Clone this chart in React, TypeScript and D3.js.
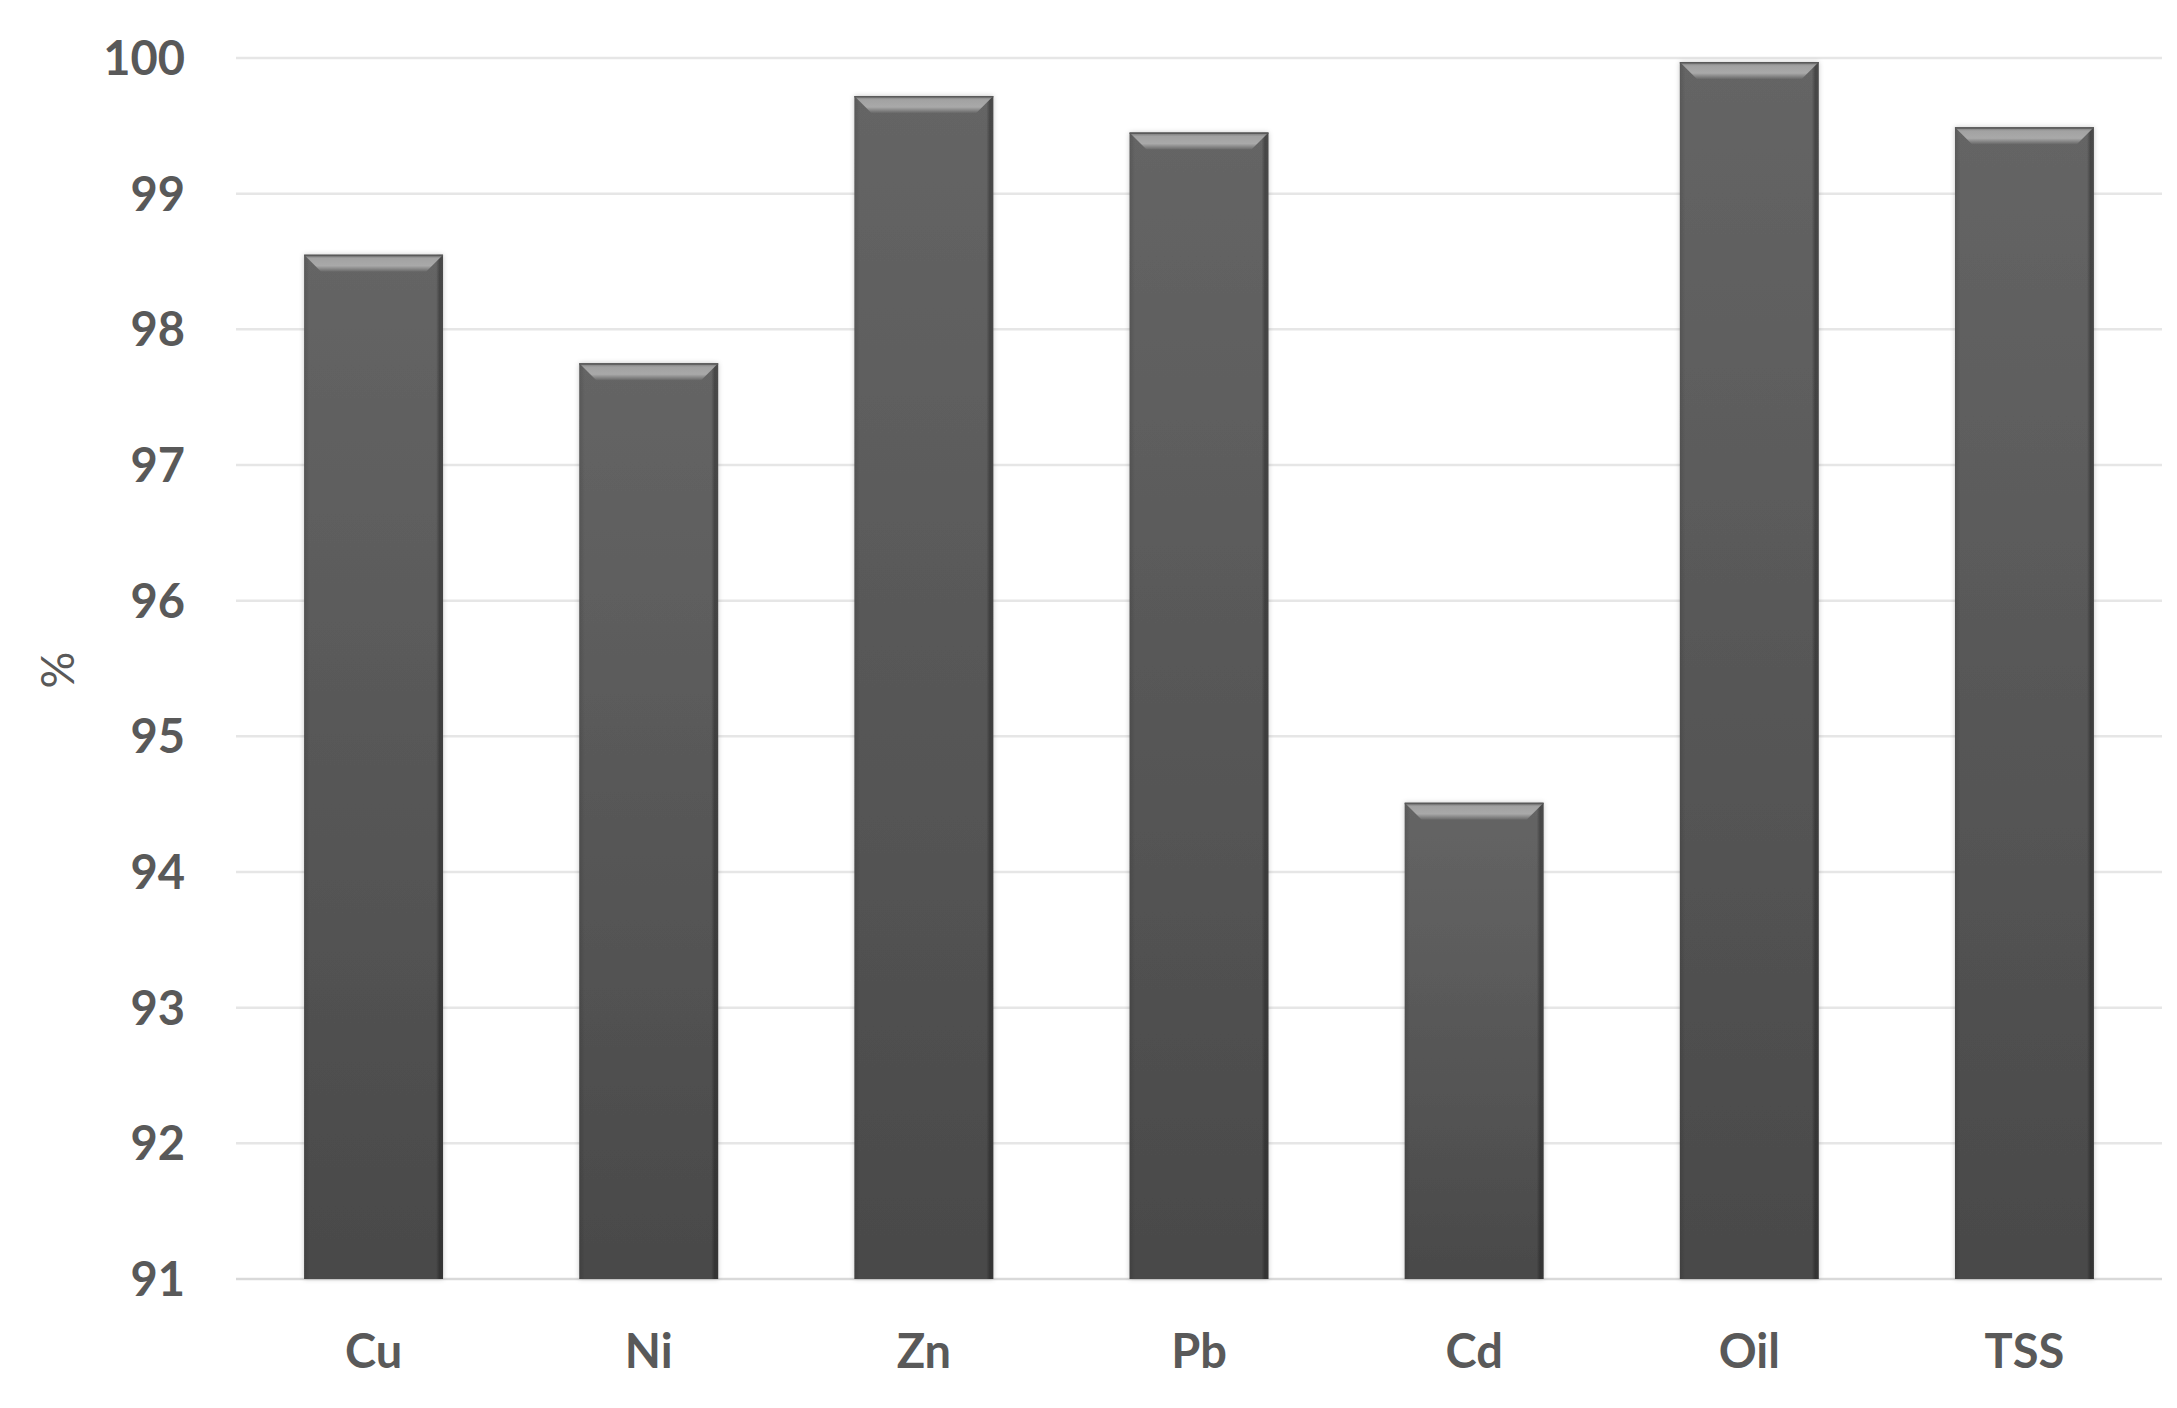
import React, { useEffect, useRef } from 'react'
import * as d3 from 'd3'

const categories = ['Cu', 'Ni', 'Zn', 'Pb', 'Cd', 'Oil', 'TSS']
const values = [98.55, 97.75, 99.72, 99.45, 94.51, 99.97, 99.49]
const yTicks = [91, 92, 93, 94, 95, 96, 97, 98, 99, 100]
const yLabel = '%'

const WIDTH = 2177
const HEIGHT = 1408
const margin = { left: 236, right: 15, top: 58, bottom: 129 }
const textColor = '#595959'
const font = 'Lato, "Open Sans", sans-serif'

const App = (): JSX.Element => {
  const ref = useRef<SVGSVGElement>(null)

  useEffect(() => {
    document.body.style.margin = '0'
    const svg = d3.select(ref.current)
    svg.selectAll('*').remove()

    const x = d3
      .scaleBand<string>()
      .domain(categories)
      .range([margin.left, WIDTH - margin.right])
      .paddingInner(0.495)
      .paddingOuter(0.2475)
    const y = d3
      .scaleLinear()
      .domain([91, 100])
      .range([HEIGHT - margin.bottom, margin.top])

    const defs = svg.append('defs')
    const body = defs
      .append('linearGradient')
      .attr('id', 'barBody')
      .attr('x1', 0)
      .attr('y1', 0)
      .attr('x2', 0)
      .attr('y2', 1)
    body.append('stop').attr('offset', '0%').attr('stop-color', '#656565')
    body.append('stop').attr('offset', '100%').attr('stop-color', '#494949')

    const sides = defs
      .append('linearGradient')
      .attr('id', 'barSides')
      .attr('x1', 0)
      .attr('y1', 0)
      .attr('x2', 1)
      .attr('y2', 0)
    sides.append('stop').attr('offset', '0%').attr('stop-color', '#000').attr('stop-opacity', 0.12)
    sides.append('stop').attr('offset', '4%').attr('stop-color', '#000').attr('stop-opacity', 0)
    sides.append('stop').attr('offset', '95%').attr('stop-color', '#000').attr('stop-opacity', 0)
    sides.append('stop').attr('offset', '97.5%').attr('stop-color', '#000').attr('stop-opacity', 0.3)
    sides.append('stop').attr('offset', '100%').attr('stop-color', '#000').attr('stop-opacity', 0.25)

    const bevel = defs
      .append('linearGradient')
      .attr('id', 'barBevel')
      .attr('x1', 0)
      .attr('y1', 0)
      .attr('x2', 0)
      .attr('y2', 1)
    bevel.append('stop').attr('offset', '0%').attr('stop-color', '#727272')
    bevel.append('stop').attr('offset', '22%').attr('stop-color', '#a2a2a2')
    bevel.append('stop').attr('offset', '65%').attr('stop-color', '#a9a9a9')
    bevel.append('stop').attr('offset', '100%').attr('stop-color', '#686868')

    defs
      .append('filter')
      .attr('id', 'barShadow')
      .attr('x', '-10%')
      .attr('y', '-10%')
      .attr('width', '120%')
      .attr('height', '120%')
      .append('feDropShadow')
      .attr('dx', 0)
      .attr('dy', 0)
      .attr('stdDeviation', 2.5)
      .attr('flood-color', '#000')
      .attr('flood-opacity', 0.22)

    // gridlines + y labels
    const grid = svg.append('g')
    grid
      .selectAll('line')
      .data(yTicks)
      .join('line')
      .attr('x1', margin.left)
      .attr('x2', WIDTH - margin.right)
      .attr('y1', d => y(d))
      .attr('y2', d => y(d))
      .attr('stroke', d => (d === 91 ? '#d9d9d9' : '#e6e6e6'))
      .attr('stroke-width', 2.5)

    grid
      .selectAll('text')
      .data(yTicks)
      .join('text')
      .attr('x', 185)
      .attr('y', d => y(d))
      .attr('dy', '0.36em')
      .attr('text-anchor', 'end')
      .attr('fill', textColor)
      .attr('font-family', font)
      .attr('font-weight', 700)
      .attr('font-size', 47)
      .text(d => d)

    // bars
    const bw = x.bandwidth()
    const b = 17
    const bars = svg
      .append('g')
      .selectAll('g')
      .data(categories)
      .join('g')
      .attr('transform', (d, i) => `translate(${x(d)},${y(values[i])})`)

    bars
      .append('rect')
      .attr('width', bw)
      .attr('height', (d, i) => y(91) - y(values[i]))
      .attr('fill', 'url(#barBody)')
      .attr('filter', 'url(#barShadow)')
    bars
      .append('rect')
      .attr('width', bw)
      .attr('height', (d, i) => y(91) - y(values[i]))
      .attr('fill', 'url(#barSides)')
    bars
      .append('path')
      .attr('d', `M0,0L${bw},0L${bw - b},${b}L${b},${b}Z`)
      .attr('fill', 'url(#barBevel)')
    bars
      .append('line')
      .attr('x1', 0)
      .attr('x2', bw)
      .attr('y1', 0.75)
      .attr('y2', 0.75)
      .attr('stroke', '#5a5a5a')
      .attr('stroke-width', 1.5)

    // x labels
    svg
      .append('g')
      .selectAll('text')
      .data(categories)
      .join('text')
      .attr('x', d => (x(d) ?? 0) + bw / 2)
      .attr('y', y(91) + 89)
      .attr('text-anchor', 'middle')
      .attr('fill', textColor)
      .attr('font-family', font)
      .attr('font-weight', 700)
      .attr('font-size', 47)
      .text(d => d)

    // y axis title
    svg
      .append('text')
      .attr('transform', `translate(74,670) rotate(-90)`)
      .attr('text-anchor', 'middle')
      .attr('fill', textColor)
      .attr('font-family', font)
      .attr('font-size', 46)
      .text(yLabel)
  }, [])

  return <svg ref={ref} width={WIDTH} height={HEIGHT} style={{ display: 'block', background: '#fff' }} />
}

export default App
